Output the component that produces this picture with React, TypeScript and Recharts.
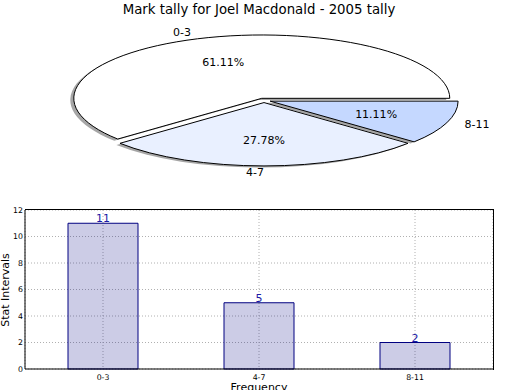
import {
  Bar,
  BarChart,
  CartesianGrid,
  Cell,
  LabelList,
  Pie,
  PieChart,
  XAxis,
  YAxis,
} from "recharts";

const sliceNames = ["0-3", "4-7", "8-11"];
const sliceCounts = [11, 5, 2];
const sliceColors = ["#ffffff", "#e9f0ff", "#c5d8ff"];

const barCategories = ["0-3", "4-7", "8-11"];
const barValues = [11, 5, 2];
const yTicks = [0, 2, 4, 6, 8, 10, 12];

const FONT = "DejaVu Sans, sans-serif";

// pie is drawn round, then squashed vertically into the ellipse of the reference
const PIE_CX = 259;
const PIE_CY = 98.7;
const PIE_R = 188;
const SQUASH = 0.337;
const EXPLODE = 6.5;
const SHADOW_DX = -3.5;
const SHADOW_DY = 5;

const pieData = sliceNames.map((name, i) => ({ name, value: sliceCounts[i] }));
const barData = barCategories.map((name, i) => ({ name, value: barValues[i] }));

const total = sliceCounts.reduce((a, b) => a + b, 0);
const midAngles = sliceCounts.map((v, i) => {
  const before = sliceCounts.slice(0, i).reduce((a, b) => a + b, 0);
  return (360 * (before + v / 2)) / total;
});

function explodedCenter(i: number) {
  const rad = (midAngles[i] * Math.PI) / 180;
  return {
    cx: PIE_CX + EXPLODE * Math.cos(rad),
    cy: PIE_CY - EXPLODE * Math.sin(rad),
  };
}

function makeLabel(target: number) {
  return (props: any) => {
    if (props.index !== target) return null;
    const { cx, cy, midAngle, percent } = props;
    const rad = (midAngle * Math.PI) / 180;
    const cos = Math.cos(rad);
    const sin = Math.sin(rad);
    const at = (f: number) => ({
      x: cx + PIE_R * f * cos,
      y: PIE_CY + (cy - PIE_CY - PIE_R * f * sin) * SQUASH,
    });
    const pct = at(0.6);
    const name = at(1.1);
    return (
      <g>
        <text
          x={pct.x}
          y={pct.y}
          textAnchor="middle"
          dominantBaseline="central"
          fontSize={11}
          fontFamily={FONT}
          fill="#000"
        >
          {(percent * 100).toFixed(2)}%
        </text>
        <text
          x={name.x}
          y={name.y}
          textAnchor={cos < 0 ? "end" : "start"}
          dominantBaseline="central"
          fontSize={11}
          fontFamily={FONT}
          fill="#000"
        >
          {sliceNames[target]}
        </text>
      </g>
    );
  };
}

const pieCss = `
.pie-wrap svg path {
  transform-box: view-box;
  transform-origin: 0px ${PIE_CY}px;
  transform: scaleY(${SQUASH});
  vector-effect: non-scaling-stroke;
}
`;

export default function App() {
  return (
    <div
      style={{
        position: "absolute",
        left: 0,
        top: 0,
        width: 520,
        height: 390,
        background: "#fff",
        fontFamily: FONT,
        overflow: "hidden",
      }}
    >
      <style>{pieCss}</style>
      <div
        style={{
          position: "absolute",
          left: 0,
          top: 2,
          width: 518,
          textAlign: "center",
          fontSize: 13.3,
          lineHeight: "16px",
        }}
      >
        Mark tally for Joel Macdonald - 2005 tally
      </div>

      <div className="pie-wrap" style={{ position: "absolute", left: 0, top: 0 }}>
        <PieChart width={520} height={200}>
          {sliceNames.map((_, i) => {
            const c = explodedCenter(i);
            return (
              <Pie
                key={`shadow-${i}`}
                data={pieData}
                dataKey="value"
                cx={c.cx + SHADOW_DX}
                cy={c.cy + SHADOW_DY}
                innerRadius={0}
                outerRadius={PIE_R}
                startAngle={0}
                endAngle={360}
                label={false}
                labelLine={false}
                isAnimationActive={false}
              >
                {pieData.map((d, j) => (
                  <Cell
                    key={d.name}
                    fill={j === i ? "#4d4d4d" : "none"}
                    fillOpacity={0.5}
                    stroke="none"
                  />
                ))}
              </Pie>
            );
          })}
          {sliceNames.map((_, i) => {
            const c = explodedCenter(i);
            return (
              <Pie
                key={`slice-${i}`}
                data={pieData}
                dataKey="value"
                nameKey="name"
                cx={c.cx}
                cy={c.cy}
                innerRadius={0}
                outerRadius={PIE_R}
                startAngle={0}
                endAngle={360}
                label={makeLabel(i)}
                labelLine={false}
                isAnimationActive={false}
              >
                {pieData.map((d, j) => (
                  <Cell
                    key={d.name}
                    fill={j === i ? sliceColors[i] : "none"}
                    stroke={j === i ? "#000" : "none"}
                    strokeWidth={1}
                  />
                ))}
              </Pie>
            );
          })}
        </PieChart>
      </div>

      <div style={{ position: "absolute", left: 0, top: 200 }}>
        <BarChart
          width={520}
          height={190}
          data={barData}
          margin={{ top: 10, right: 27, bottom: 0, left: 0 }}
          barSize={70}
        >
          <CartesianGrid stroke="#b0b0b0" strokeDasharray="1 2" />
          <XAxis
            dataKey="name"
            height={21}
            interval={0}
            tickLine={false}
            tickSize={3}
            axisLine={{ stroke: "#000" }}
            tick={{ fontSize: 7.8, fill: "#000", fontFamily: FONT }}
          />
          <YAxis
            domain={[0, 12]}
            ticks={yTicks}
            width={25}
            interval={0}
            tickLine={false}
            tickSize={1}
            tickMargin={1}
            axisLine={{ stroke: "#000" }}
            tick={{ fontSize: 7.8, fill: "#000", fontFamily: FONT }}
          />
          <Bar
            dataKey="value"
            fill="#000080"
            fillOpacity={0.2}
            stroke="#000080"
            strokeWidth={1}
            isAnimationActive={false}
          >
            <LabelList
              dataKey="value"
              position="top"
              offset={1}
              fill="#1a1aa6"
              fontSize={11}
              fontFamily={FONT}
            />
          </Bar>
        </BarChart>
      </div>
      {/* top and right spines of the bar axes */}
      <div
        style={{
          position: "absolute",
          left: 25,
          top: 209,
          width: 468,
          height: 160,
          borderTop: "1px solid #000",
          borderRight: "1px solid #000",
          pointerEvents: "none",
        }}
      />

      <div
        style={{
          position: "absolute",
          left: 5.2,
          top: 289.5,
          transform: "translate(-50%, -50%) rotate(-90deg)",
          whiteSpace: "nowrap",
          fontSize: 11,
          lineHeight: "13px",
        }}
      >
        Stat Intervals
      </div>
      <div
        style={{
          position: "absolute",
          left: 0,
          top: 381,
          width: 518,
          textAlign: "center",
          fontSize: 11,
          lineHeight: "13px",
        }}
      >
        Frequency
      </div>
    </div>
  );
}
